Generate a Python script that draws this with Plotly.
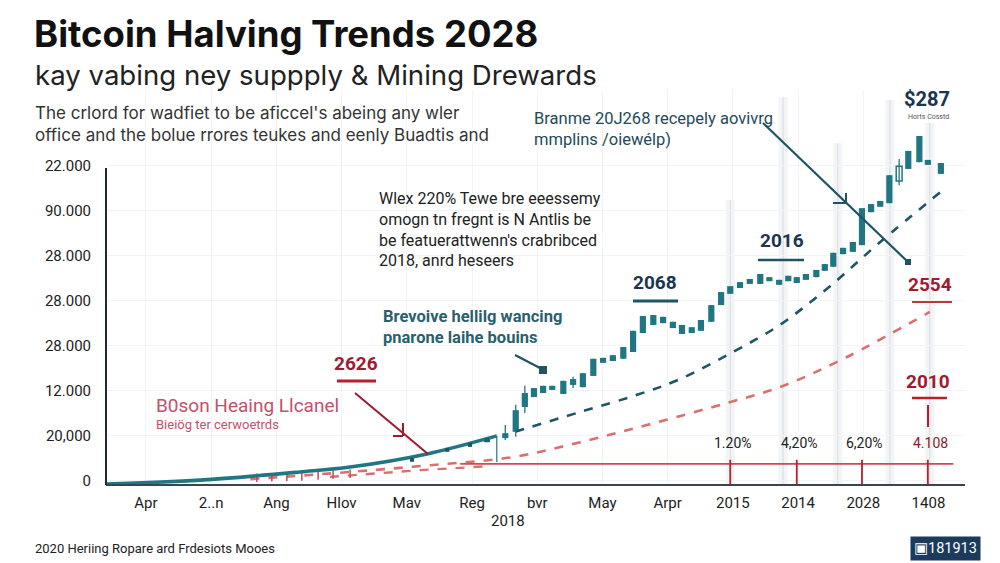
import plotly.graph_objects as go

# ---------------- data ----------------
x_labels = ["Apr", "2..n", "Ang", "Hlov", "Mav", "Reg", "bvr", "May", "Arpr", "2015", "2014", "2028", "1408"]
y_labels = ["0", "20,000", "12.000", "28.000", "28.000", "28.000", "90.000", "22.000"]

# candles (x position in category units, body low/high, wick low/high)
candle_x = [5.23, 5.51, 5.67, 5.81, 5.95, 6.09, 6.23, 6.40, 6.55, 6.70, 6.86, 7.01, 7.16, 7.32, 7.47,
            7.62, 7.78, 7.93, 8.08, 8.22, 8.37, 8.51, 8.67, 8.82, 8.96, 9.11, 9.26, 9.42, 9.56, 9.71,
            9.85, 9.98, 10.12, 10.28, 10.41, 10.54, 10.69, 10.84, 10.98, 11.12, 11.26, 11.40, 11.69,
            11.86, 11.99, 12.19]
body_lo = [0.86, 0.95, 1.09, 1.64, 1.86, 1.95, 2.02, 1.93, 2.13, 2.08, 2.33, 2.62, 2.66, 2.71, 2.86,
           3.28, 3.46, 3.50, 3.39, 3.26, 3.28, 3.33, 3.53, 3.90, 4.15, 4.28, 4.37, 4.37, 4.43, 4.35,
           4.43, 4.39, 4.46, 4.52, 4.66, 4.75, 5.03, 5.08, 5.23, 5.96, 6.08, 6.16, 6.92,
           7.07, 7.01, 6.81]
body_hi = [0.95, 1.06, 1.57, 1.95, 2.06, 2.11, 2.11, 2.22, 2.26, 2.39, 2.71, 2.73, 2.79, 2.97, 3.33,
           3.66, 3.68, 3.64, 3.53, 3.46, 3.41, 3.57, 3.90, 4.19, 4.32, 4.41, 4.48, 4.59, 4.52, 4.46,
           4.55, 4.52, 4.59, 4.68, 4.81, 5.06, 5.17, 5.30, 6.05, 6.14, 6.21, 6.78, 7.32,
           7.65, 7.12, 7.05]
wick_lo = [0.86, 0.91, 0.98, 1.51, 1.86, 1.95, 2.02, 1.93, 2.06, 2.08, 2.33, 2.62, 2.66, 2.71, 2.86,
           3.28, 3.46, 3.50, 3.39, 3.26, 3.28, 3.33, 3.53, 3.90, 4.15, 4.28, 4.37, 4.37, 4.43, 4.35,
           4.43, 4.39, 4.46, 4.52, 4.66, 4.75, 5.03, 5.08, 5.23, 5.96, 6.08, 6.16, 6.92,
           7.07, 7.01, 6.81]
wick_hi = [0.95, 1.24, 1.69, 2.11, 2.06, 2.11, 2.11, 2.22, 2.31, 2.39, 2.71, 2.73, 2.79, 2.97, 3.33,
           3.66, 3.68, 3.64, 3.53, 3.46, 3.41, 3.57, 3.90, 4.19, 4.32, 4.41, 4.48, 4.59, 4.52, 4.46,
           4.55, 4.52, 4.59, 4.68, 4.81, 5.06, 5.17, 5.30, 6.05, 6.14, 6.21, 6.78, 7.32,
           7.65, 7.12, 7.05]
hollow_x = [11.55]
hollow_lo = [6.65]
hollow_hi = [6.98]
hollow_wlo = [6.56]
hollow_whi = [7.14]

# solid teal supply curve
curve_x = [-0.613, 0.83, 2.36, 3.13, 4.31, 5.38]
curve_y = [-0.067, 0.02, 0.20, 0.31, 0.60, 1.00]
curve_end_wick = [0.42, 1.00]
curve_marks_x = [4.08, 4.62, 4.97, 5.23]
curve_marks_y = [0.47, 0.69, 0.80, 0.91]

# teal dashed trend
teal_dash_x = [5.66, 6.66, 7.53, 8.19, 9.00, 9.72, 10.49, 11.26, 12.22]
teal_dash_y = [1.09, 1.53, 1.91, 2.26, 2.86, 3.46, 4.32, 5.30, 6.45]

# red dashed reward trend
red_dash_x = [1.60, 3.13, 4.36, 5.63, 6.66, 7.68, 8.91, 9.72, 10.75, 12.02]
red_dash_y = [0.04, 0.20, 0.35, 0.53, 0.86, 1.24, 1.73, 2.08, 2.75, 3.75]
red_low_x = [2.82, 4.20, 5.28]
red_low_y = [0.09, 0.24, 0.33]
red_tick_x = [1.70, 1.93, 2.16, 2.39, 2.64, 2.87, 3.13]
red_tick_y = [0.07, 0.08, 0.09, 0.10, 0.12, 0.14, 0.16]

# red baseline and halving drop lines
red_base_x = [4.82, 12.38]
red_base_y = [0.38, 0.38]
drop_x = [8.96, 9.98, 10.98, 11.99]
drop_top = 0.47
drop_labels = ["1.20%", "4,20%", "6,20%", "4.108"]

# light halving bands
band_x = [8.96, 9.77, 10.61, 11.41, 12.02]
band_top = [6.23, 8.51, 7.49, 8.45, 7.94]

# ---------------- styling ----------------
TEAL = "#207683"
TEAL_D = "#1d5564"
NAVY = "#1b3550"
RED = "#a3192f"
RED_L = "#d8706f"
PINK = "#c4506b"
FONT = "Roboto, Liberation Sans, Arial, sans-serif"
HEAD = "Inter, Open Sans, sans-serif"

L, R, T, B = 106, 965, 90, 484
W, H = 1000, 563
X0, X1 = -0.613, 12.56
Y0, Y1 = -0.067, 8.67


def P(px, py):
    return (px - L) / (R - L), (B - py) / (B - T)


fig = go.Figure()

# bands
for bx, bt in zip(band_x, band_top):
    fig.add_shape(type="rect", xref="x", yref="y", x0=bx - 0.07, x1=bx + 0.07, y0=Y0, y1=bt,
                  fillcolor="rgba(205,210,218,0.24)", line_width=0, layer="below")
    fig.add_shape(type="line", xref="x", yref="y", x0=bx, x1=bx, y0=Y0, y1=bt,
                  line=dict(color="rgba(175,180,190,0.4)", width=1), layer="below")

# red baseline
fig.add_trace(go.Scatter(x=red_base_x, y=red_base_y, mode="lines",
                         line=dict(color="#d4474f", width=1.8), hoverinfo="skip"))
# drop lines
for dx in drop_x:
    fig.add_trace(go.Scatter(x=[dx, dx], y=[Y0, drop_top], mode="lines",
                             line=dict(color="#b3202f", width=1.8), hoverinfo="skip"))

# red dashed
fig.add_trace(go.Scatter(x=red_dash_x, y=red_dash_y, mode="lines", line_shape="spline",
                         line=dict(color=RED_L, width=2.6, dash="dash"), hoverinfo="skip"))
fig.add_trace(go.Scatter(x=red_low_x, y=red_low_y, mode="lines",
                         line=dict(color=RED_L, width=2.4, dash="dash"), hoverinfo="skip"))
fig.add_trace(go.Scatter(x=red_tick_x, y=red_tick_y, mode="markers",
                         marker=dict(symbol="line-ns", size=6, line=dict(color="#c94a55", width=1.5)),
                         hoverinfo="skip"))

# teal dashed
fig.add_trace(go.Scatter(x=teal_dash_x, y=teal_dash_y, mode="lines", line_shape="spline",
                         line=dict(color=TEAL_D, width=2.6, dash="dash"), hoverinfo="skip"))

# solid teal curve
fig.add_trace(go.Scatter(x=curve_x, y=curve_y, mode="lines", line_shape="spline",
                         line=dict(color=TEAL, width=3.6), hoverinfo="skip"))
fig.add_trace(go.Scatter(x=[curve_x[-1], curve_x[-1]], y=curve_end_wick, mode="lines",
                         line=dict(color=TEAL, width=1.2), hoverinfo="skip"))
fig.add_trace(go.Scatter(x=curve_marks_x, y=curve_marks_y, mode="markers",
                         marker=dict(symbol="square", size=4, color=TEAL_D), hoverinfo="skip"))

# wicks
wx, wy = [], []
for x, lo, hi in zip(candle_x + hollow_x, wick_lo + hollow_wlo, wick_hi + hollow_whi):
    wx += [x, x, None]
    wy += [lo, hi, None]
fig.add_trace(go.Scatter(x=wx, y=wy, mode="lines", line=dict(color=TEAL, width=1.3), hoverinfo="skip"))

# candle bodies
fig.add_trace(go.Bar(x=candle_x, y=[h - l for l, h in zip(body_lo, body_hi)], base=body_lo,
                     width=0.095, marker=dict(color=TEAL, line_width=0), hoverinfo="skip"))
fig.add_trace(go.Bar(x=hollow_x, y=[h - l for l, h in zip(hollow_lo, hollow_hi)], base=hollow_lo,
                     width=0.09, marker=dict(color="white", line=dict(color=TEAL, width=1.5)),
                     hoverinfo="skip"))

# ---- shapes in pixel space ----
def seg(x0, y0, x1, y1, color, width):
    a, b = P(x0, y0)
    c, d = P(x1, y1)
    fig.add_shape(type="line", xref="paper", yref="paper", x0=a, y0=b, x1=c, y1=d,
                  line=dict(color=color, width=width))

# y axis line
seg(L, 168, L, B + 1, "#1f2a33", 2)

# underlines
seg(337, 381, 376, 381, "#b3202f", 3)
seg(633, 301, 678, 301, TEAL_D, 3)
seg(758, 260, 804, 260, TEAL_D, 2.5)
seg(912, 302, 952, 302, "#c0363f", 2)
seg(912, 398, 947, 398, "#b3202f", 2.5)
seg(928, 405, 928, 427, "#b3202f", 2)

# arrows
seg(355, 393, 428, 454, "#9b1b30", 2)
seg(403, 423, 403, 436, "#9b1b30", 2)
seg(393, 436, 403, 436, "#9b1b30", 2)
seg(763, 123, 908, 262, TEAL_D, 2.2)
seg(833, 203, 846, 203, TEAL_D, 2)
seg(846, 193, 846, 204, TEAL_D, 2)
seg(515, 355, 540, 368, TEAL_D, 2.2)
for cx, cy, s in [(908, 262, 3), (543, 370, 4)]:
    a, b = P(cx - s, cy + s)
    c, d = P(cx + s, cy - s)
    fig.add_shape(type="rect", xref="paper", yref="paper", x0=a, y0=b, x1=c, y1=d,
                  fillcolor=TEAL_D, line_width=0)

# ---- text ----
def txt(text, px, py, size, color="#222", bold=False, xa="left", ya="middle", family=FONT, **kw):
    a, b = P(px, py)
    fig.add_annotation(text=f"<b>{text}</b>" if bold else text, x=a, y=b, xref="paper", yref="paper",
                       showarrow=False, xanchor=xa, yanchor=ya, align="left",
                       font=dict(size=size, color=color, family=family), **kw)

txt("Bitcoin Halving Trends 2028", 32, 34, 36.5, "#111", bold=True, family=HEAD)
txt("kay vabing ney suppply &amp; Mining Drewards", 33, 75, 27.6, "#222", family=HEAD)
txt("The crlord for wadfiet to be aficcel's abeing any wler<br>office and the bolue rrores teukes and eenly Buadtis and",
    33, 101, 17, "#333", ya="top", family=HEAD)
txt("Branme 20J268 recepely aovivrg<br>mmplins /oiewélp)", 532, 107, 16.5, "#1e4a5a", ya="top")
txt("$287", 927, 99, 20, NAVY, bold=True, xa="center")
txt("Horts Cosstd", 928, 117, 7, "#555", xa="center")
txt("Wlex 220% Tewe bre eeessemy<br>omogn tn fregnt is N Antlis be<br>be featuerattwenn's crabribced<br>2018, anrd heseers",
    377, 187, 16, "#222", ya="top")
txt("Brevoive hellilg wancing<br>pnarone laihe bouins", 381, 305, 16.5, "#2a5f6e", bold=True, ya="top")
txt("2626", 356, 363, 19, RED, bold=True, xa="center")
txt("2068", 655, 282, 19, NAVY, bold=True, xa="center")
txt("2016", 782, 240, 19, NAVY, bold=True, xa="center")
txt("2554", 930, 284, 19, RED, bold=True, xa="center")
txt("2010", 928, 381, 19, RED, bold=True, xa="center")
for dx, lab in zip(drop_x, drop_labels):
    px = L + (dx - X0) / (X1 - X0) * (R - L)
    txt(lab, px + 3, 443, 14, "#8b1a2b" if lab == "4.108" else "#222", xa="center")
txt("B0son Heaing Llcanel", 154, 405, 19, PINK)
txt("Bieiög ter cerwoetrds", 154, 424, 13, PINK)
txt("2018", 508, 521, 15, "#222", xa="center")
txt("2020 Heriing Ropare ard Frdesiots Mooes", 33, 548, 13, "#222")
txt("▣181913", 945, 548, 14.5, "white", xa="center", bgcolor="#1b3a5c", borderpad=3)

fig.update_layout(
    width=W, height=H, autosize=False,
    margin=dict(l=L, r=W - R, t=T, b=H - B),
    paper_bgcolor="white", plot_bgcolor="white",
    showlegend=False, barmode="overlay",
    font=dict(family=FONT, color="#222"),
    xaxis=dict(range=[X0, X1], tickmode="array", tickvals=list(range(len(x_labels))), ticktext=x_labels,
               showline=True, linecolor="#3a4550", linewidth=2, showgrid=True, gridcolor="#f3f4f5",
               zeroline=False, ticks="", tickfont=dict(size=15, color="#222"), ticklabelstandoff=4),
    yaxis=dict(range=[Y0, Y1], tickmode="array", tickvals=list(range(len(y_labels))), ticktext=y_labels,
               showline=False, showgrid=True, gridcolor="#f3f4f5", zeroline=False, ticks="",
               tickfont=dict(size=15, color="#222"), ticklabelstandoff=14),
)

fig.write_html("out.html")
